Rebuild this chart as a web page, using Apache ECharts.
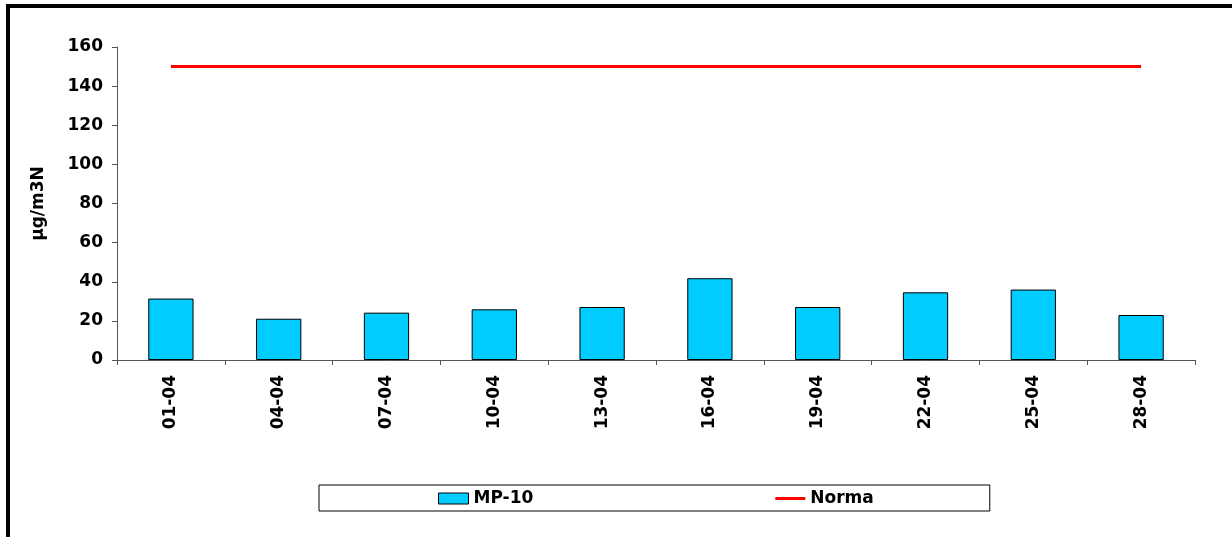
<!DOCTYPE html>
<html>
<head>
<meta charset="utf-8">
<script src="https://cdn.jsdelivr.net/npm/echarts@6/dist/echarts.min.js"></script>
<style>
  html, body { margin: 0; padding: 0; background: #fff; }
  #chart { width: 1232px; height: 537px; }
</style>
</head>
<body>
<div id="chart"></div>
<script>
// Sampling dates (day-month)
const categories = ['01-04', '04-04', '07-04', '10-04', '13-04', '16-04', '19-04', '22-04', '25-04', '28-04'];
// MP-10 concentration per sample, µg/m3N
const mp10 = [31.4, 21.1, 24.2, 25.9, 27.1, 41.8, 27.1, 34.6, 36.0, 23.0];
// Daily standard
const norma = [150, 150, 150, 150, 150, 150, 150, 150, 150, 150];
const yTicks = { min: 0, max: 160, interval: 20 };

const FONT = 'DejaVu Sans';
const chart = echarts.init(document.getElementById('chart'), null, { renderer: 'canvas' });

chart.setOption({
  backgroundColor: '#ffffff',
  animation: false,
  textStyle: { fontFamily: FONT },
  graphic: [{
    type: 'rect',
    shape: { x: 8, y: 6, width: 1300, height: 620 },
    style: { fill: 'none', stroke: '#000', lineWidth: 4 },
    silent: true
  }],
  grid: { left: 117, top: 47, right: 37, bottom: 177, containLabel: false },
  legend: {
    left: 319,
    top: 485,
    padding: [5, 116, 4, 119],
    borderColor: '#000',
    borderWidth: 1,
    itemGap: 242,
    itemWidth: 30,
    itemHeight: 11,
    textStyle: { fontFamily: FONT, fontWeight: 'bold', fontSize: 17, color: '#000' },
    data: [
      { name: 'MP-10', icon: 'rect', itemStyle: { borderColor: '#000', borderWidth: 1 } },
      // flat bar centred in the icon box, drawn as the line sample
      { name: 'Norma', icon: 'path://M0,0 M0,4 L30,4 L30,7 L0,7 Z M30,11' }
    ]
  },
  xAxis: {
    type: 'category',
    data: categories,
    boundaryGap: true,
    axisLine: { lineStyle: { color: '#555', width: 1 } },
    axisTick: { show: true, alignWithLabel: false, length: 5, lineStyle: { color: '#555' } },
    axisLabel: {
      rotate: 90,
      margin: 15,
      color: '#000',
      fontFamily: FONT,
      fontWeight: 'bold',
      fontSize: 17
    },
    splitLine: { show: false }
  },
  yAxis: {
    type: 'value',
    min: yTicks.min,
    max: yTicks.max,
    interval: yTicks.interval,
    name: 'µg/m3N',
    nameLocation: 'middle',
    nameGap: 70,
    nameRotate: 90,
    nameTextStyle: { color: '#000', fontFamily: FONT, fontWeight: 'bold', fontSize: 17 },
    axisLine: { show: true, lineStyle: { color: '#555', width: 1 } },
    axisTick: { show: true, length: 5, lineStyle: { color: '#555' } },
    axisLabel: {
      margin: 14,
      color: '#000',
      fontFamily: FONT,
      fontWeight: 'bold',
      fontSize: 17
    },
    splitLine: { show: false }
  },
  series: [
    {
      name: 'MP-10',
      type: 'bar',
      data: mp10,
      barWidth: '42%',
      itemStyle: { color: '#00CCFF', borderColor: '#000', borderWidth: 1 }
    },
    {
      name: 'Norma',
      type: 'line',
      data: norma,
      symbol: 'none',
      showSymbol: false,
      lineStyle: { color: '#FF0000', width: 3 },
      itemStyle: { color: '#FF0000' }
    }
  ]
});
</script>
</body>
</html>
